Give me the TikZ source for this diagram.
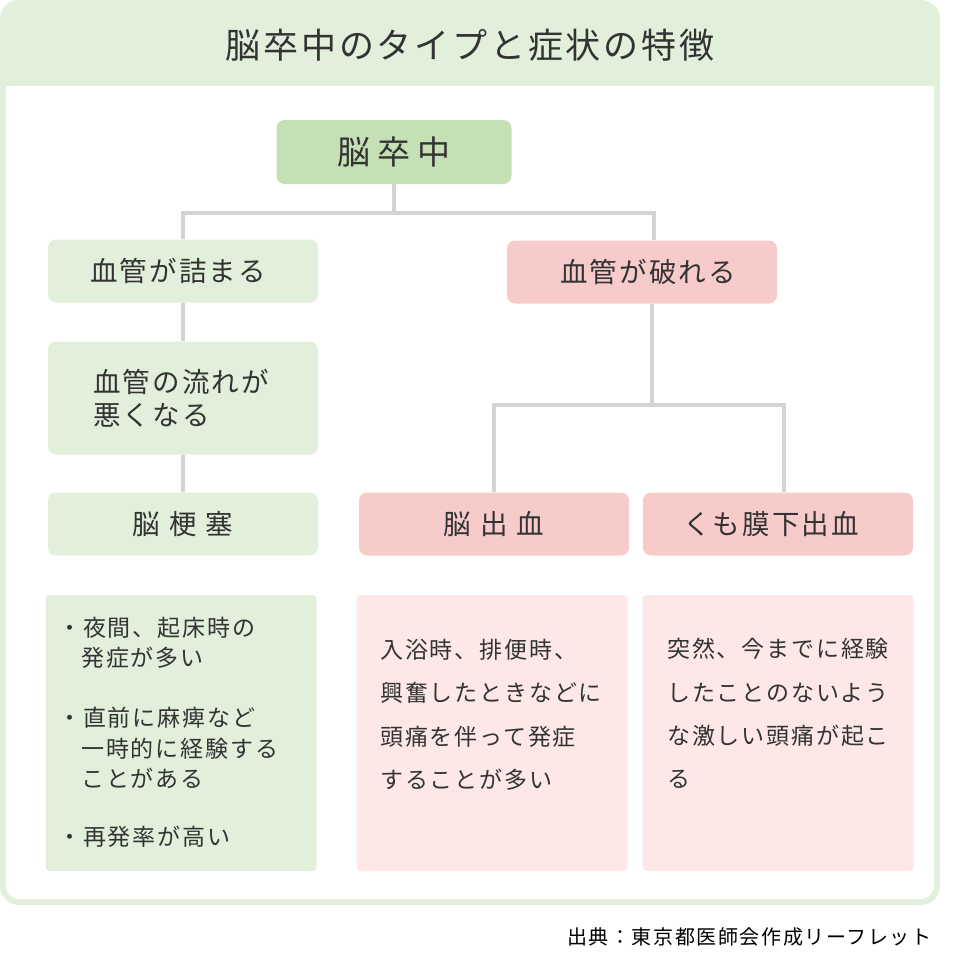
\documentclass[tikz,border=0pt]{standalone}
\usepackage{fontspec}
\setmainfont[LetterSpace=8]{Noto Sans CJK JP}
\usepackage{tikz}
\definecolor{leaf}{HTML}{E2EFDA}
\definecolor{leafdark}{HTML}{C5E0B4}
\definecolor{rose}{HTML}{F8CBCB}
\definecolor{roselight}{HTML}{FDE8E7}
\definecolor{wire}{HTML}{D3D3D3}
\definecolor{ink}{HTML}{333333}
\tikzstyle{box}=[rounded corners=8pt,minimum width=270pt,minimum height=63pt,inner sep=0pt,text=ink,font=\fontsize{27.5}{33}\selectfont]
\tikzstyle{desc}=[rounded corners=4pt,minimum width=271pt,minimum height=276pt,inner sep=0pt]
\tikzstyle{txt}=[anchor=north west,align=left,inner sep=0pt,text=ink]
\tikzstyle{link}=[wire,line width=4.5pt]

\begin{document}
\begin{tikzpicture}[x=1pt,y=-1pt]
\useasboundingbox (0,0) rectangle (956,964);
% frame and header
\begin{scope}
\clip[rounded corners=16pt] (3,3) rectangle (937,902);
\fill[leaf] (0,0) rectangle (956,86);
\end{scope}
\draw[leaf,line width=6pt,rounded corners=16pt] (3,3) rectangle (937,902);
\node[text=ink,font=\fontsize{35}{38}\selectfont] (title) at (470,45) {脳卒中のタイプと症状の特徴};

% tree
\node[box,fill=leafdark,minimum width=235pt,minimum height=64pt,font=\fontsize{33}{36}\selectfont] (stroke) at (394,152) {脳\hspace{7pt}卒\hspace{7pt}中};
\node[box,fill=leaf] (clog) at (183,271) {\hspace*{-10pt}血管が詰まる};
\node[box,fill=rose] (rupt) at (642,272) {\hspace*{12pt}血管が破れる};
\node[box,fill=leaf,minimum height=113pt,text width=180pt,align=left] (flow) at (183,398) {血管の流れが\\悪くなる};
\node[box,fill=leaf] (infarct) at (183,524) {脳\hspace{9pt}梗\hspace{9pt}塞};
\node[box,fill=rose] (hemo) at (494,524) {脳\hspace{9pt}出\hspace{9pt}血};
\node[box,fill=rose] (subarach) at (778,524) {くも膜下出血\hspace*{14pt}};

\coordinate (fork) at (394,213);
\coordinate (split) at (652,405);
\draw[link] (stroke) -- (fork);
\draw[link] (clog) |- (fork) -| ([xshift=12pt]rupt.north);
\draw[link] (clog) -- (flow);
\draw[link] (flow) -- (infarct);
\draw[link] ([xshift=10pt]rupt.south) -- (split);
\draw[link] (hemo) |- (split) -| ([xshift=6pt]subarach.north);

% descriptions
\node[desc,fill=leaf] (d1) at (181,733) {};
\node[desc,fill=roselight] (d2) at (492,733) {};
\node[desc,fill=roselight] (d3) at (778,733) {};
\node[txt,font=\fontsize{23}{30.2}\selectfont] (t1) at (58,617) {・夜間、起床時の\\\hspace*{1em}発症が多い\\[30pt]・直前に麻痺など\\\hspace*{1em}一時的に経験する\\\hspace*{1em}ことがある\\[28pt]・再発率が高い};
\node[txt,font=\fontsize{23}{43.3}\selectfont] (t2) at (380,639) {入浴時、排便時、\\興奮したときなどに\\頭痛を伴って発症\\することが多い};
\node[txt,font=\fontsize{23}{43.3}\selectfont] (t3) at (667,638) {突然、今までに経験\\したことのないよう\\な激しい頭痛が起こ\\る};

\node[anchor=east,font=\fontsize{20}{24}\selectfont] (src) at (935,937) {出典：東京都医師会作成リーフレット};
\end{tikzpicture}
\end{document}
